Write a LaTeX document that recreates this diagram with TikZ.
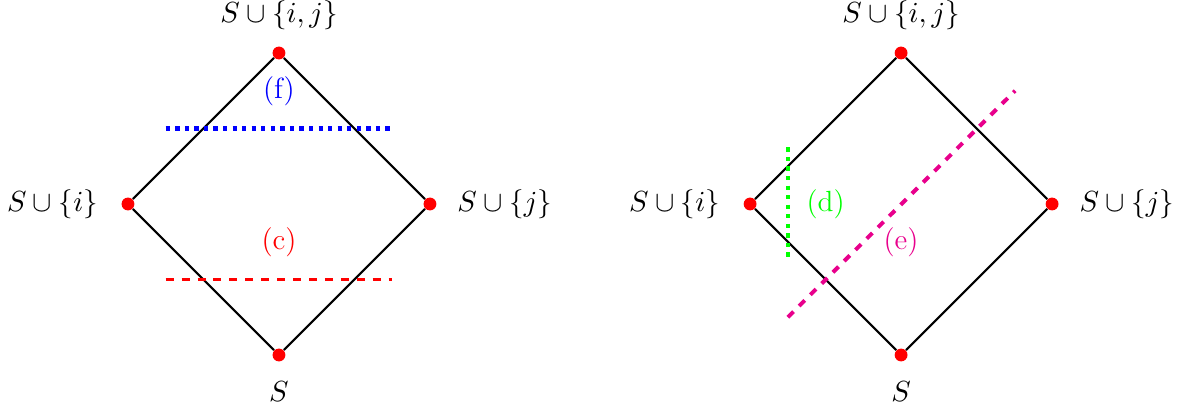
\documentclass[tikz,border=0pt]{standalone}
\usepackage{amsmath}
\usepackage{tikz}
\usetikzlibrary{positioning, calc}

\definecolor{cutmagenta}{RGB}{232,0,140}

\begin{document}
\begin{tikzpicture}[
				vertex/.style={circle, fill=red, inner sep=0pt, minimum size=1.7mm},
				side/.style={line width=0.8pt},
				cutdot/.style={line width=1.6pt, dotted},
				cutdash/.style={line width=1.5pt, dashed},
				lbl/.style={font=\fontsize{11pt}{1pt}\selectfont}
				]
				
				\useasboundingbox (-3.695,-2.728) rectangle (11.974,2.702);
				
				% Rombo izquierdo
				\node[vertex] (T1) at (0,2) {};
				\node[vertex] (L1) at (-2,0) {};
				\node[vertex] (R1) at (2,0) {};
				\node[vertex] (B1) at (0,-2) {};
				
				\path[side]
				(T1) edge (L1)
				(T1) edge (R1)
				(L1) edge (B1)
				(R1) edge (B1);
				
				\node[lbl] (lT1) at (0,2.50) {$S\cup\{i,j\}$};
				\node[lbl] (lL1) at (-3.0,0) {$S\cup\{i\}$};
				\node[lbl] (lR1) at (2.99,0) {$S\cup\{j\}$};
				\node[lbl] (lB1) at (0,-2.48) {$S$};
				
				% Cortes (f) y (c)
				\coordinate (f1) at (-1.5,1);
				\coordinate (f2) at (1.5,1);
				\coordinate (c1) at (-1.5,-1);
				\coordinate (c2) at (1.5,-1);
				\draw[cutdot, blue] (f1) -- (f2);
				\draw[cutdash, red] (c1) -- (c2);
				\node[lbl, text=blue] (f) at (0,1.5) {(f)};
				\node[lbl, text=red] (c) at (0,-0.5) {(c)};
				
				% Rombo derecho
				\node[vertex] (T2) at (8.24,2) {};
				\node[vertex] (L2) at (6.24,0) {};
				\node[vertex] (R2) at (10.24,0) {};
				\node[vertex] (B2) at (8.24,-2) {};
				
				\path[side]
				(T2) edge (L2)
				(T2) edge (R2)
				(L2) edge (B2)
				(R2) edge (B2);
				
				\node[lbl] (lT2) at (8.24,2.50) {$S\cup\{i,j\}$};
				\node[lbl] (lL2) at (5.24,0) {$S\cup\{i\}$};
				\node[lbl] (lR2) at (11.23,0) {$S\cup\{j\}$};
				\node[lbl] (lB2) at (8.24,-2.48) {$S$};
				
				% Cortes (d) y (e)
				\coordinate (d1) at (6.74,0.75);
				\coordinate (d2) at (6.74,-0.75);
				\coordinate (e1) at (6.74,-1.5);
				\coordinate (e2) at (9.75,1.5);
				\draw[cutdot, green] (d1) -- (d2);
				\draw[cutdash, cutmagenta] (e1) -- (e2);
				\node[lbl, text=green] (d) at (7.24,0) {(d)};
				\node[lbl, text=cutmagenta] (e) at (8.24,-0.5) {(e)};
				
			\end{tikzpicture}
\end{document}
